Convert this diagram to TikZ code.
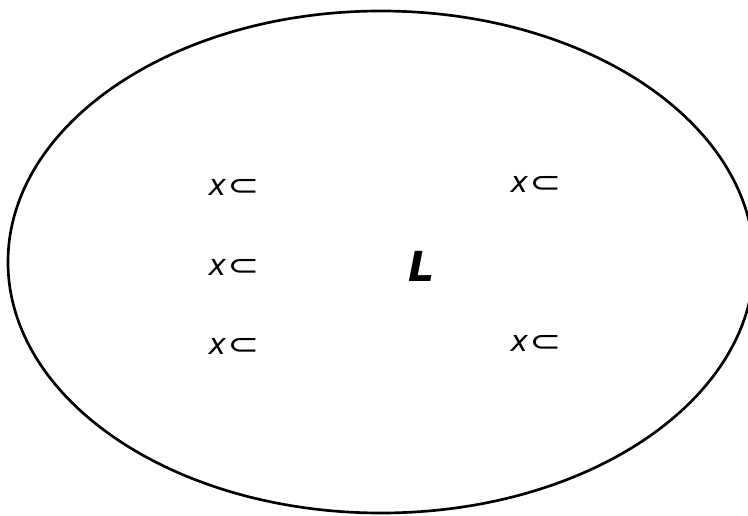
\documentclass[tikz,border=0pt]{standalone}
\usepackage{fontspec}
\setsansfont{DejaVu Sans}
\usetikzlibrary{positioning}

\newcommand{\elemsym}{x\kern1pt\scalebox{1.3}[1]{⊂}}

\begin{document}
\begin{tikzpicture}[x=0.75pt,y=-0.75pt,
    elem/.style={font=\sffamily\slshape\fontsize{22}{22}\selectfont,inner sep=0pt},
    lang/.style={font=\sffamily\bfseries\slshape\fontsize{31}{31}\selectfont,inner sep=0pt}]
  \useasboundingbox (0,0) rectangle (748,516);
  \coordinate (centre) at (381,262);
  \draw[line width=2pt] (centre) ellipse [x radius=373, y radius=251];

  % elements on the left column
  \node[elem] (el1) at (234,187) {\elemsym};
  \node[elem] (el2) at (234,267) {\elemsym};
  \node[elem] (el3) at (234,346) {\elemsym};
  % elements on the right column
  \node[elem] (el4) at (536,184) {\elemsym};
  \node[elem] (el5) at (536,343) {\elemsym};

  \node[lang] (L) at (422,266) {L};
\end{tikzpicture}
\end{document}
